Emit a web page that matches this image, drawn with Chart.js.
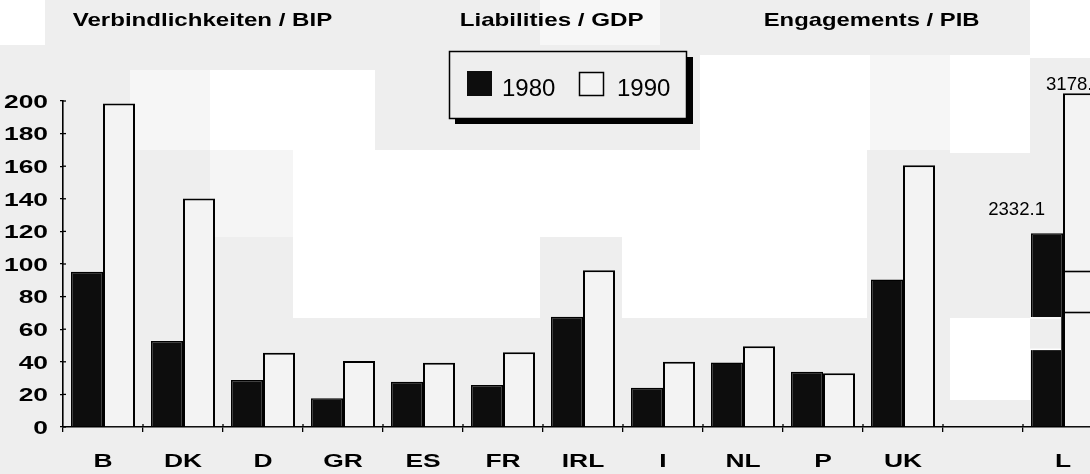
<!DOCTYPE html>
<html><head><meta charset="utf-8">
<script src="https://cdn.jsdelivr.net/npm/chart.js@4.4.0/dist/chart.umd.min.js"></script>
<style>
html,body{margin:0;padding:0;background:#eeeeee;overflow:hidden;width:1090px;height:474px}
#wrap{position:absolute;left:0;top:0;width:1110px;height:474px}
canvas{display:block}
</style></head><body>
<div id="wrap"><canvas id="c" width="1110" height="474"></canvas></div>
<script>
// ---- data ----
const categories = ['B','DK','D','GR','ES','FR','IRL','I','NL','P','UK','','L'];
const series1980 = [95.2, 52.7, 28.8, 17.6, 27.8, 25.7, 67.6, 24.1, 39.6, 33.9, 90.5, null, 118.9];
const series1990 = [198.4, 140.2, 45.5, 40.5, 39.4, 45.8, 96.2, 40.0, 49.6, 32.9, 160.6, null, 204.7];
const seriesLabels = ['1980', '1990'];
const yTickValues = [0, 20, 40, 60, 80, 100, 120, 140, 160, 180, 200];
const titles = ['Verbindlichkeiten / BIP', 'Liabilities / GDP', 'Engagements / PIB'];
const offScaleCategory = 'L';
const offScaleLabels = ['2332.1', '3178.'];   // true values of the broken L bars

// ---- styling helpers ----
const FAM = '"Liberation Sans", Arial, Helvetica, sans-serif';
const BOLD = 'bold 18.6px ' + FAM;
const STRETCH = 1.42;

function drawStretched(ctx, text, x, y, font, align, sx) {
  ctx.save();
  ctx.font = font; ctx.textAlign = align; ctx.textBaseline = 'alphabetic';
  ctx.fillStyle = '#000';
  ctx.translate(x, y); ctx.scale(sx, 1);
  ctx.fillText(text, 0, 0);
  ctx.restore();
}
function drawFitted(ctx, text, x0, x1, y, font) {
  ctx.save();
  ctx.font = font; ctx.textAlign = 'left'; ctx.textBaseline = 'alphabetic';
  ctx.fillStyle = '#000';
  const m = ctx.measureText(text);
  const inkW = m.actualBoundingBoxLeft + m.actualBoundingBoxRight;
  ctx.translate(x0, y); ctx.scale((x1 - x0) / inkW, 1);
  ctx.fillText(text, m.actualBoundingBoxLeft, 0);
  ctx.restore();
}

// scanned-paper background patches (screen px)
const bgPatches = [
  [0, 0, 45, 45, '#ffffff'],
  [540, 0, 120, 45, '#f7f7f7'],
  [1030, 0, 80, 58, '#ffffff'],
  [130, 70, 80, 80, '#f6f6f6'],
  [210, 70, 165, 80, '#ffffff'],
  [700, 55, 170, 95, '#ffffff'],
  [870, 55, 80, 95, '#f6f6f6'],
  [950, 55, 80, 98, '#ffffff'],
  [210, 150, 83, 87, '#f5f5f5'],
  [293, 150, 574, 87, '#ffffff'],
  [293, 237, 247, 81, '#ffffff'],
  [622, 237, 245, 81, '#ffffff'],
  [950, 318, 80, 82, '#ffffff']
];

const bgPlugin = {
  id: 'bg',
  beforeDraw(chart) {
    const ctx = chart.ctx;
    ctx.save();
    ctx.fillStyle = '#eeeeee';
    ctx.fillRect(0, 0, chart.width, chart.height);
    bgPatches.forEach(p => { ctx.fillStyle = p[4]; ctx.fillRect(p[0], p[1], p[2], p[3]); });
    ctx.restore();
  }
};

const decoPlugin = {
  id: 'deco',
  afterDatasetsDraw(chart) {
    const ctx = chart.ctx;
    const xs = chart.scales.x, ys = chart.scales.y;
    const area = chart.chartArea;
    const idxL = categories.indexOf(offScaleCategory);

    // broken-bar marks on L
    const b80 = chart.getDatasetMeta(0).data[idxL];
    const b90 = chart.getDatasetMeta(1).data[idxL];
    ctx.save();
    const w80 = b80.width;
    const yA = ys.getPixelForValue(67.4), yB = ys.getPixelForValue(47.2);
    ctx.fillStyle = '#eeeeee';
    ctx.fillRect(b80.x - w80 / 2 - 1, yA, w80 - 1, yB - yA);
    ctx.fillStyle = '#ffffff';
    ctx.fillRect(b80.x - w80 / 2 - 1, yA, w80 - 1, 1.5);
    ctx.fillRect(b80.x - w80 / 2 - 1, yB - 1.5, w80 - 1, 1.5);
    ctx.strokeStyle = '#000'; ctx.lineWidth = 1.6;
    [95.6, 70.5].forEach(v => {
      const y = Math.round(ys.getPixelForValue(v)) + 0.5;
      ctx.beginPath(); ctx.moveTo(b90.x - b90.width / 2, y); ctx.lineTo(b90.x + b90.width / 2, y); ctx.stroke();
    });
    ctx.restore();

    // inner halves of tick marks
    ctx.save();
    ctx.strokeStyle = '#000'; ctx.lineWidth = 1.3;
    yTickValues.forEach(v => {
      const y = ys.getPixelForValue(v);
      ctx.beginPath(); ctx.moveTo(area.left, y); ctx.lineTo(area.left + 3, y); ctx.stroke();
    });
    const n = categories.length, cw = (area.right - area.left) / n;
    for (let i = 1; i < n; i++) {
      const x = area.left + i * cw;
      ctx.beginPath(); ctx.moveTo(x, area.bottom - 3); ctx.lineTo(x, area.bottom); ctx.stroke();
    }
    ctx.restore();

    // tick labels
    yTickValues.forEach(v => {
      drawStretched(ctx, String(v), 48, ys.getPixelForValue(v) + 6.7, BOLD, 'right', STRETCH);
    });
    categories.forEach((c, i) => {
      if (c) drawStretched(ctx, c, xs.getPixelForValue(i), 466.5, BOLD, 'center', STRETCH);
    });

    // titles
    drawFitted(ctx, titles[0], 72.7, 331.7, 25.7, BOLD);
    drawFitted(ctx, titles[1], 461, 643, 25.7, BOLD);
    drawFitted(ctx, titles[2], 765, 979, 25.7, BOLD);

    // off-scale value labels
    ctx.save();
    ctx.fillStyle = '#000'; ctx.font = '18.6px ' + FAM; ctx.textBaseline = 'alphabetic';
    ctx.textAlign = 'right';
    ctx.fillText(offScaleLabels[0], b80.x - 2, b80.y - 18);
    ctx.textAlign = 'left';
    ctx.fillText(offScaleLabels[1], b90.x - 33, b90.y - 3.5);
    ctx.restore();

    // legend box
    ctx.save();
    ctx.fillStyle = '#000';
    ctx.fillRect(455, 57, 238, 67);
    ctx.fillStyle = '#eeeeee';
    ctx.fillRect(449, 51, 238, 68);
    ctx.strokeStyle = '#000'; ctx.lineWidth = 1.5;
    ctx.strokeRect(449.5, 51.5, 237, 67);
    ctx.fillStyle = '#0d0d0d';
    ctx.fillRect(467, 71, 25, 25);
    ctx.fillStyle = '#f3f3f3';
    ctx.fillRect(579.5, 72.5, 24, 23);
    ctx.strokeRect(579.5, 72.5, 24, 23);
    ctx.fillStyle = '#000';
    ctx.font = '24px ' + FAM; ctx.textAlign = 'left'; ctx.textBaseline = 'alphabetic';
    ctx.fillText(chart.data.datasets[0].label, 502, 95.5);
    ctx.fillText(chart.data.datasets[1].label, 617, 95.5);
    ctx.restore();
  }
};

new Chart(document.getElementById('c').getContext('2d'), {
  type: 'bar',
  data: {
    labels: categories,
    datasets: [
      { label: seriesLabels[0], data: series1980, backgroundColor: '#0d0d0d', borderColor: '#000', borderWidth: 1.5,
        categoryPercentage: 0.8, barPercentage: 1.0, clip: false },
      { label: seriesLabels[1], data: series1990, backgroundColor: '#f3f3f3', borderColor: '#000', borderWidth: 2,
        categoryPercentage: 0.8, barPercentage: 1.0, clip: false }
    ]
  },
  options: {
    responsive: false,
    animation: false,
    devicePixelRatio: 1,
    layout: { padding: { left: 0, right: 7, top: 101, bottom: 0 } },
    plugins: { legend: { display: false }, tooltip: { enabled: false } },
    scales: {
      x: {
        grid: { display: true, drawOnChartArea: false, drawTicks: true, tickLength: 5, color: '#000', lineWidth: 1.3, offset: true },
        border: { display: true, color: '#000', width: 1.6 },
        ticks: { display: false },
        afterFit(s) { s.height = 47; }
      },
      y: {
        min: 0, max: 200,
        grid: { display: true, drawOnChartArea: false, drawTicks: true, tickLength: 3, color: '#000', lineWidth: 1.3 },
        border: { display: true, color: '#000', width: 1.6 },
        ticks: { display: false, stepSize: 20 },
        afterFit(s) { s.width = 63; }
      }
    }
  },
  plugins: [bgPlugin, decoPlugin]
});
</script>
</body></html>
